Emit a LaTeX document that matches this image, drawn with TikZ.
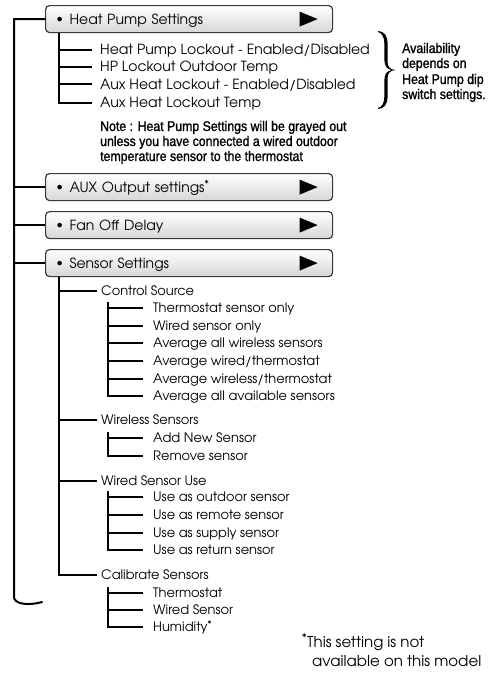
\documentclass[tikz,border=0pt]{standalone}
\usepackage{fontspec}
\setmainfont{TeX Gyre Adventor}
\newfontfamily\condf[FakeStretch=0.88,FakeBold=1.3]{Liberation Sans}
\usetikzlibrary{decorations.pathreplacing,calc}
\newcommand\bigf{\fontsize{14}{16}\selectfont}
\newcommand\smf{\fontsize{13}{15}\selectfont}
\newcommand\footf{\fontsize{15}{17}\selectfont}
\newcommand\notef{\condf\fontsize{14}{15}\selectfont}
\begin{document}
\begin{tikzpicture}[x=1pt,y=-1pt,
  wire/.style={line width=2pt,black},
  box/.style={draw=black!78, line width=1.2pt, rounded corners=4pt,
    top color=white, bottom color=black!16,
    minimum width=287pt, minimum height=27pt,
    inner xsep=24pt, inner ysep=0pt, text width=239pt, align=left,
    text height=10.3pt, text depth=0pt, anchor=north west, font=\bigf,
    path picture={
      \fill[black] ([xshift=14pt]path picture bounding box.west) circle (2.3pt);
      \fill[black,sharp corners] ([xshift=-33pt,yshift=7.5pt]path picture bounding box.east)
        -- ++(18pt,-7.5pt) -- ++(-18pt,-7.5pt) -- cycle;}},
  bitem/.style={anchor=west, inner sep=0pt, text height=10.3pt, text depth=0pt, font=\bigf},
  sitem/.style={anchor=west, inner sep=0pt, text height=9.6pt, text depth=0pt, font=\smf},
  noteline/.style={anchor=base west, inner sep=0pt, font=\notef},
  footline/.style={anchor=base west, inner sep=0pt, font=\footf}]
\useasboundingbox (0,0) rectangle (495,683);

% ---- boxes
\node[box] (b1) at (45,5)   {Heat Pump Settings};
\node[box] (b2) at (45,173) {AUX Output settings\textsuperscript{*}};
\node[box] (b3) at (45,211) {Fan Off Delay};
\node[box] (b4) at (45,249) {Sensor Settings};

% ---- main spine
\coordinate (mend)  at (14,597);
\coordinate (mcurl) at (42,602);
\draw[wire,line cap=round] (mcurl) .. controls (28,606) and (14,604) .. (mend) |- (b1.west);
\draw[wire] (mend |- b2.west) -- (b2.west);
\draw[wire] (mend |- b3.west) -- (b3.west);
\draw[wire] (mend |- b4.west) -- (b4.west);

% ---- heat pump items
\node[bitem] (h1) at (100,49.5) {Heat Pump Lockout - Enabled/Disabled};
\node[bitem] (h2) at (100,66.5) {HP Lockout Outdoor Temp};
\node[bitem] (h3) at (100,84)   {Aux Heat Lockout - Enabled/Disabled};
\node[bitem] (h4) at (100,102.5){Aux Heat Lockout Temp};
\coordinate (hp0) at ($(b1.south west)+(14,0)$);
\draw[wire] (hp0) |- ([xshift=-8pt]h4.west);
\foreach \i in {1,2,3} \draw[wire] (hp0 |- h\i.west) -- ([xshift=-8pt]h\i.west);

% ---- brace and availability note
\fill[black] (378,31) .. controls (384,31.5) and (387.6,35) .. (387.6,44) -- (387.6,62)
  .. controls (387.6,67) and (390,69.5) .. (395.5,70)
  .. controls (390,70.5) and (387.6,73) .. (387.6,78) -- (387.6,96)
  .. controls (387.6,105) and (384,108.5) .. (378,109)
  -- (378,108) .. controls (382,107) and (384.4,103) .. (384.4,96) -- (384.4,80)
  .. controls (384.4,74) and (387,71) .. (391.5,70)
  .. controls (387,69) and (384.4,66) .. (384.4,60) -- (384.4,44)
  .. controls (384.4,37) and (382,33) .. (378,32) -- cycle;
\node[noteline] (a1) at (402,53) {Availability};
\node[noteline] (a2) at (402,68) {depends on};
\node[noteline] (a3) at (402,84) {Heat Pump dip};
\node[noteline] (a4) at (402,99) {switch settings.};

% ---- grayed-out note
\node[noteline] (n1) at (100,131) {Note : Heat Pump Settings will be grayed out};
\node[noteline] (n2) at (100,146) {unless you have connected a wired outdoor};
\node[noteline] (n3) at (100,161) {temperature sensor to the thermostat};

% ---- sensor settings groups
\node[sitem] (g1) at (101,290.5) {Control Source};
\node[sitem] (g2) at (101,420)   {Wireless Sensors};
\node[sitem] (g3) at (101,481)   {Wired Sensor Use};
\node[sitem] (g4) at (101,575)   {Calibrate Sensors};
\coordinate (ss0) at ($(b4.south west)+(14,0)$);
\draw[wire] (ss0) |- ([xshift=-4pt]g4.west);
\foreach \i in {1,2,3} \draw[wire] (ss0 |- g\i.west) -- ([xshift=-4pt]g\i.west);

% control source
\node[sitem] (c1) at (153,308) {Thermostat sensor only};
\node[sitem] (c2) at (153,326) {Wired sensor only};
\node[sitem] (c3) at (153,343) {Average all wireless sensors};
\node[sitem] (c4) at (153,361) {Average wired/thermostat};
\node[sitem] (c5) at (153,379) {Average wireless/thermostat};
\node[sitem] (c6) at (153,396) {Average all available sensors};
\coordinate (cs0) at (108,302);
\draw[wire] (cs0) |- ([xshift=-10pt]c6.west);
\foreach \i in {1,...,5} \draw[wire] (cs0 |- c\i.west) -- ([xshift=-10pt]c\i.west);

% wireless sensors
\node[sitem] (w1) at (153,438) {Add New Sensor};
\node[sitem] (w2) at (153,456) {Remove sensor};
\coordinate (ws0) at (108,432);
\draw[wire] (ws0) |- ([xshift=-10pt]w2.west);
\draw[wire] (ws0 |- w1.west) -- ([xshift=-10pt]w1.west);

% wired sensor use
\node[sitem] (u1) at (153,497) {Use as outdoor sensor};
\node[sitem] (u2) at (153,515) {Use as remote sensor};
\node[sitem] (u3) at (153,533) {Use as supply sensor};
\node[sitem] (u4) at (153,550) {Use as return sensor};
\coordinate (us0) at (108,491);
\draw[wire] (us0) |- ([xshift=-10pt]u4.west);
\foreach \i in {1,2,3} \draw[wire] (us0 |- u\i.west) -- ([xshift=-10pt]u\i.west);

% calibrate sensors
\node[sitem] (k1) at (153,593) {Thermostat};
\node[sitem] (k2) at (153,610) {Wired Sensor};
\node[sitem] (k3) at (153,627) {Humidity\textsuperscript{*}};
\coordinate (ks0) at (108,587);
\draw[wire] (ks0) |- ([xshift=-10pt]k3.west);
\foreach \i in {1,2} \draw[wire] (ks0 |- k\i.west) -- ([xshift=-10pt]k\i.west);

% ---- footnote
\node[footline] (f1) at (302,647) {\textsuperscript{*}This setting is not};
\node[footline] (f2) at (312,666) {available on this model};
\end{tikzpicture}
\end{document}
